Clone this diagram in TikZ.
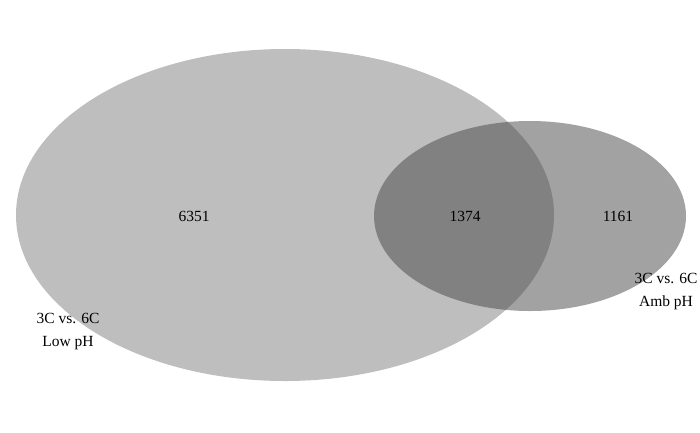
\documentclass[tikz,border=0pt]{standalone}
\usepackage{fontspec}
\setmainfont{Liberation Serif}
\usepackage{tikz}
\usetikzlibrary{positioning}
\definecolor{LowSet}{RGB}{190,190,190}
\definecolor{AmbSet}{RGB}{69,69,69}
\tikzset{
  lowset/.style={fill=LowSet},
  ambset/.style={fill=AmbSet,fill opacity=0.5},
  count/.style={inner sep=0pt,font=\fontsize{15.5}{23}\selectfont},
  setlabel/.style={inner sep=0pt,align=center,font=\fontsize{15.5}{23}\selectfont}
}
\begin{document}
\begin{tikzpicture}[x=1pt,y=-1pt]
  \useasboundingbox (0,0) rectangle (700,432);
  \fill[lowset] (285,215) ellipse [x radius=269pt,y radius=166pt];
  \fill[ambset] (530,216) ellipse [x radius=156pt,y radius=95pt];
  \node[count] (onlylow) at (194,216) {6351};
  \node[count] (both) at (465,216) {1374};
  \node[count] (onlyamb) at (618,216) {1161};
  \node[setlabel] (lowname) at (68,332) {3C vs. 6C\\Low pH};
  \node[setlabel] (ambname) at (666,292) {3C vs. 6C\\Amb pH};
\end{tikzpicture}
\end{document}
